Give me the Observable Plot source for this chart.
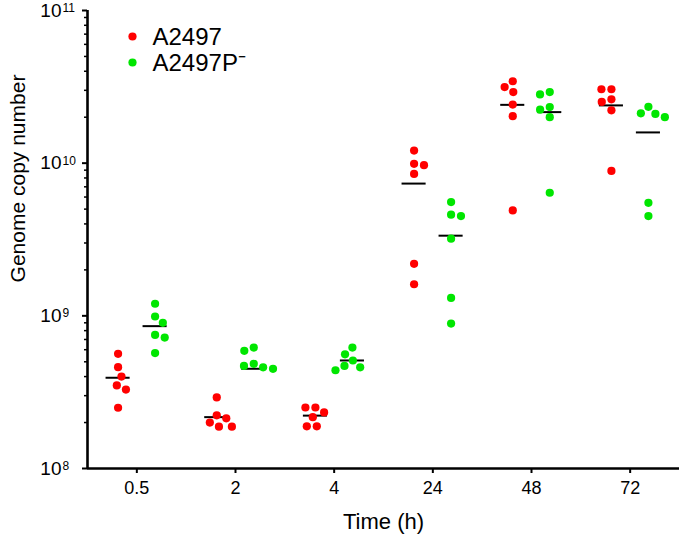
<!DOCTYPE html>
<html><head><meta charset="utf-8">
<script src="https://cdn.jsdelivr.net/npm/d3@7"></script>
<script src="https://cdn.jsdelivr.net/npm/@observablehq/plot@0.6"></script>
<style>
body{margin:0;background:#fff;}
#chart{width:680px;height:537px;}
</style></head><body><div id="chart"></div>
<script>
// ---- data ----
const times = ["0.5", "2", "4", "24", "48", "72"];
const strains = ["A2497", "A2497P⁻"];
const strainColors = ["#ff0000", "#00e600"];
// genome copy numbers, one row per time point, six replicates each
const wtValues = [
  [5.64e8, 4.61e8, 4.0e8, 3.5e8, 3.29e8, 2.5e8],
  [2.92e8, 2.23e8, 2.13e8, 2.0e8, 1.88e8, 1.88e8],
  [2.51e8, 2.51e8, 2.33e8, 2.17e8, 1.89e8, 1.89e8],
  [1.21e10, 9.9e9, 9.7e9, 8.5e9, 2.19e9, 1.61e9],
  [3.44e10, 3.15e10, 2.92e10, 2.42e10, 2.03e10, 4.9e9],
  [3.05e10, 3.05e10, 2.62e10, 2.52e10, 2.22e10, 8.9e9]
];
const mutValues = [
  [1.2e9, 9.9e8, 9.0e8, 7.5e8, 7.2e8, 5.7e8],
  [6.2e8, 5.9e8, 4.85e8, 4.7e8, 4.6e8, 4.5e8],
  [6.2e8, 5.6e8, 5.1e8, 4.7e8, 4.6e8, 4.4e8],
  [5.56e9, 4.6e9, 4.5e9, 3.2e9, 1.31e9, 8.9e8],
  [2.92e10, 2.82e10, 2.33e10, 2.24e10, 2.0e10, 6.4e9],
  [2.34e10, 2.12e10, 2.1e10, 2.0e10, 5.5e9, 4.5e9]
];
// mean bars as drawn in the reference
const wtMeans = [3.93e8, 2.17e8, 2.22e8, 7.35e9, 2.41e10, 2.39e10];
const mutMeans = [8.56e8, 4.5e8, 5.1e8, 3.35e9, 2.16e10, 1.59e10];
const yMajorTicks = [1e8, 1e9, 1e10, 1e11];
const yMinorTicks = [1e8, 1e9, 1e10].flatMap(b => [2,3,4,5,6,7,8,9].map(m => m * b));

// ---- layout ----
const W = 680, H = 537, mL = 87, mR = 1, mT = 10, mB = 69;
const unit = (W - mL - mR) / times.length;   // px per category
const side = [-0.19, 0.185];                  // left: A2497, right: A2497P-
const halfBar = 0.122;
const yPix = d3.scaleLog().domain([1e8, 1e11]).range([H - mB, mT]);

// simple beeswarm so dots of one column do not overlap too much
function swarm(vals, D) {
  const placed = [];
  return vals.map((v, k) => {
    const py = yPix(v);
    const near = placed.filter(p => Math.abs(p.y - py) < D);
    const cands = [0];
    for (const p of near) {
      const h = Math.sqrt(D * D - (p.y - py) ** 2);
      cands.push(p.x + h, p.x - h);
    }
    cands.sort((a, b) => Math.abs(a) - Math.abs(b) || (k % 2 ? a - b : b - a));
    const x = cands.find(c => near.every(p => (p.x - c) ** 2 + (p.y - py) ** 2 >= D * D - 1e-6));
    placed.push({x, y: py});
    return x;
  });
}

const dots = [];
const means = [];
[wtValues, mutValues].forEach((series, s) => {
  series.forEach((vals, i) => {
    const offs = swarm(vals, 10);
    vals.forEach((v, k) => dots.push({strain: strains[s], value: v, x: i + side[s] + offs[k] / unit}));
  });
  (s === 0 ? wtMeans : mutMeans).forEach((m, i) =>
    means.push({value: m, x1: i + side[s] - halfBar, x2: i + side[s] + halfBar}));
});

const font = "'Liberation Sans', Arial, Helvetica, sans-serif";

const plot = Plot.plot({
  width: W, height: H,
  marginLeft: mL, marginRight: mR, marginTop: mT, marginBottom: mB,
  style: {fontFamily: font, background: "#fff", color: "#000", overflow: "visible"},
  x: {type: "linear", domain: [-0.5, times.length - 0.5]},
  y: {type: "log", domain: [1e8, 1e11]},
  color: {domain: strains, range: strainColors},
  marks: [
    Plot.ruleY(means, {y: "value", x1: "x1", x2: "x2", stroke: "#000", strokeWidth: 2}),
    Plot.dot(dots, {x: "x", y: "value", fill: "strain", r: 4.1}),
    Plot.axisX({ticks: d3.range(times.length), tickFormat: i => times[i], tickSize: 5, tickPadding: 8,
                fontSize: 18, strokeWidth: 2, label: null}),
    Plot.axisY({ticks: yMinorTicks, tickFormat: () => "", tickSize: 3, strokeWidth: 1.5, label: null}),
    Plot.axisY({ticks: yMajorTicks, tickFormat: d => "10^" + Math.round(Math.log10(d)), tickSize: 5,
                tickPadding: 21, fontSize: 19, strokeWidth: 2, label: null}),
    Plot.ruleY([1e8], {strokeWidth: 2.6}),
    Plot.ruleX([-0.5], {strokeWidth: 2.6}),
    // legend
    Plot.dot([strains[0]], {frameAnchor: "top-left", dx: 45, dy: 26, fill: d => d, r: 4.1}),
    Plot.dot([strains[1]], {frameAnchor: "top-left", dx: 45, dy: 52, fill: d => d, r: 4.1}),
    Plot.text([strains[0]], {frameAnchor: "top-left", dx: 65, dy: 27, text: d => d, textAnchor: "start",
                             lineAnchor: "middle", fontSize: 24}),
    Plot.text([strains[1]], {frameAnchor: "top-left", dx: 65, dy: 53, text: d => d, textAnchor: "start",
                             lineAnchor: "middle", fontSize: 24}),
    // axis titles
    Plot.text(["Time (h)"], {frameAnchor: "bottom", dy: 53, text: d => d, lineAnchor: "middle", fontSize: 22}),
    Plot.text(["Genome copy number"], {frameAnchor: "top-left", dx: -69, dy: 168, text: d => d, rotate: -90,
                                       textAnchor: "middle", lineAnchor: "middle", fontSize: 21})
  ]
});

// superscript exponents on the y tick labels
d3.select(plot).selectAll("text").each(function() {
  const t = this.textContent;
  if (!/^10\^\d+$/.test(t)) return;
  const [base, exp] = t.split("^");
  this.textContent = base;
  const e = this.cloneNode(false);
  e.textContent = exp;
  e.setAttribute("text-anchor", "start");
  e.setAttribute("font-size", 12);
  e.setAttribute("dx", 1);
  e.setAttribute("dy", "-0.2em");
  this.parentNode.appendChild(e);
});

document.getElementById("chart").appendChild(plot);
</script>
</body></html>
